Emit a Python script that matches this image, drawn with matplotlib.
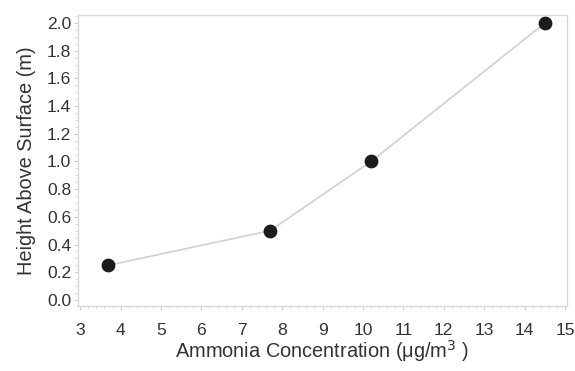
import matplotlib.pyplot as plt
from matplotlib.ticker import MultipleLocator

plt.rcParams['font.family'] = ['Liberation Sans', 'DejaVu Sans']

# data
concentration = [3.7, 7.7, 10.2, 14.5]
height = [0.25, 0.5, 1.0, 2.0]

fig = plt.figure(figsize=(5.75, 3.71), dpi=100)
ax = fig.add_axes([0.136, 0.175, 0.850, 0.785])

ax.plot(concentration, height, color='#d0d0d0', linewidth=1.2, zorder=1)
ax.scatter(concentration, height, s=80, color='#1c1c1c', zorder=2)

ax.set_xlim(2.95, 15.05)
ax.set_ylim(-0.045, 2.06)
ax.xaxis.set_major_locator(MultipleLocator(1))
ax.xaxis.set_minor_locator(MultipleLocator(0.2))
ax.yaxis.set_major_locator(MultipleLocator(0.2))
ax.yaxis.set_minor_locator(MultipleLocator(0.05))
ax.yaxis.set_major_formatter(plt.FormatStrFormatter('%.1f'))

for s in ax.spines.values():
    s.set_color('#d8d8d8')
    s.set_linewidth(1.0)
ax.tick_params(which='major', length=3, color='#cfcfcf', labelsize=12.6, labelcolor='#333333')
ax.tick_params(which='minor', length=2, color='#d8d8d8')
ax.tick_params(axis='x', which='major', pad=9)
ax.tick_params(axis='y', which='major', pad=2)

ax.set_xlabel('Ammonia Concentration (μg/m$^3$ )', fontsize=14.4, color='#333333', labelpad=0)
ax.set_ylabel('Height Above Surface (m)', fontsize=14.4, color='#333333', labelpad=8)

plt.savefig('out.png', dpi=100)
